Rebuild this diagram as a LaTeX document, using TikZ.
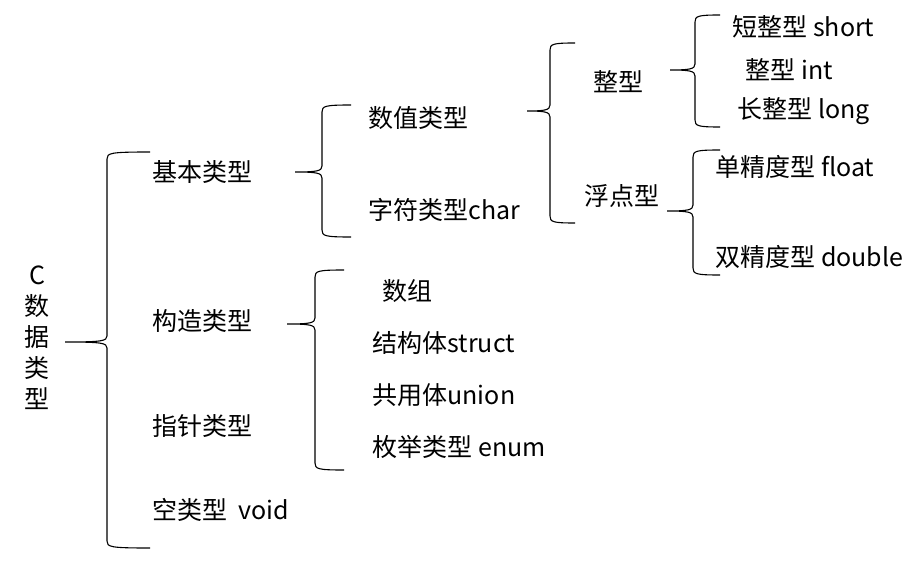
\documentclass[tikz,border=0pt]{standalone}
\usepackage{fontspec}
\setmainfont{Noto Sans CJK SC}
% left brace: stem x, end x, top y, tip y, bottom y, tip x
\newcommand\typebrace[6]{%
  \draw (#2,#3) .. controls (#1+3,#3) and (#1,#3+1) .. (#1,#3+7) -- (#1,#4-6)
    .. controls (#1,#4-1) and (#1-5,#4) .. (#6,#4)
    .. controls (#1-5,#4) and (#1,#4+1) .. (#1,#4+6) -- (#1,#5-7)
    .. controls (#1,#5-1) and (#1+3,#5) .. (#2,#5);}
\begin{document}
\begin{tikzpicture}[x=1pt, y=-1pt, line width=1.1pt,
    every node/.style={font=\fontsize{25}{31}\selectfont, inner sep=0pt},
    item/.style={anchor=west}]
  \useasboundingbox (0,0) rectangle (917,577);
  \node [align=center] (root) at (37,338) {C\\数\\据\\类\\型};   % root
  \typebrace{107}{150}{152}{342}{548}{65}                       % C data types

  \node [item] (basic)   at (152,172) {基本类型};
  \node [item] (derived) at (152,321) {构造类型};
  \node [item] (pointer) at (152,426) {指针类型};
  \node [item] (void)    at (152,510) {空类型~~void};

  \typebrace{322}{351}{105}{172}{237}{295}                      % basic
  \node [item] (numeric) at (368,118) {数值类型};
  \node [item] (char)    at (368,210) {字符类型char};

  \typebrace{315}{344}{270}{324}{470}{287}                      % derived
  \node [item] (array)   at (382,291) {数组};
  \node [item] (struct)  at (372,343) {结构体struct};
  \node [item] (union)   at (372,395) {共用体union};
  \node [item] (enum)    at (372,447) {枚举类型 enum};

  \typebrace{550}{575}{43}{111}{223}{527}                       % numeric
  \node [item] (integer) at (593,82)  {整型};
  \node [item] (real)    at (584,196) {浮点型};

  \typebrace{695}{720}{15}{70}{127}{670}                        % integer
  \node [item] (short)   at (732,27)  {短整型 short};
  \node [item] (int)     at (745,70)  {整型 int};
  \node [item] (long)    at (737,111) {长整型 long};

  \typebrace{693}{720}{150}{211}{275}{667}                      % real
  \node [item] (float)   at (715,167) {单精度型 float};
  \node [item] (double)  at (715,257) {双精度型 double};
\end{tikzpicture}
\end{document}
